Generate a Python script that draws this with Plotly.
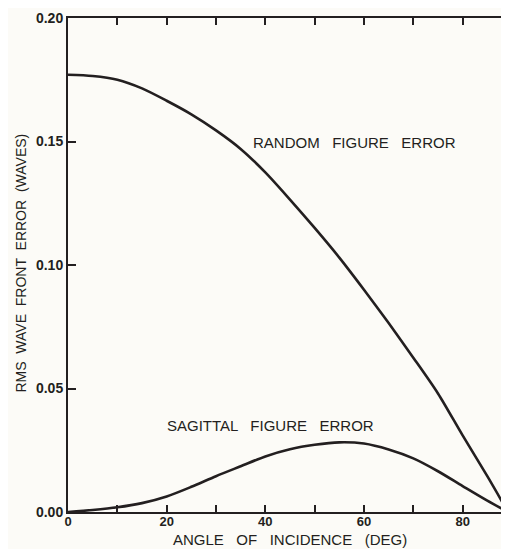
import plotly.graph_objects as go

angle_random = [0, 5, 10, 15, 20, 25, 30, 35, 40, 45, 50, 55, 60, 65, 70, 75, 80, 85, 89.2]
random_err = [0.177, 0.1765, 0.175, 0.1715, 0.1665, 0.1610, 0.1545, 0.1470, 0.1375, 0.1265,
              0.115, 0.103, 0.090, 0.0765, 0.0625, 0.048, 0.031, 0.0145, 0.0]

angle_sag = [0, 5, 10, 15, 20, 25, 30, 35, 40, 45, 50, 55, 60, 65, 70, 75, 80, 85, 89.2]
sag_err = [0.0, 0.0008, 0.0019, 0.0036, 0.0063, 0.0102, 0.0145, 0.0185, 0.0225, 0.0254,
           0.0272, 0.0282, 0.0277, 0.0253, 0.0217, 0.0165, 0.0105, 0.0046, 0.0]

x_ticks = [0, 10, 20, 30, 40, 50, 60, 70, 80]
x_ticktext = ["0", "", "20", "", "40", "", "60", "", "80"]
y_ticks = [0.0, 0.05, 0.10, 0.15, 0.20]
y_ticktext = ["0.00", "0.05", "0.10", "0.15", "0.20"]
y_right_ticks = [0.05, 0.10, 0.15]

ink = "#231f20"
bg = "#fcfbf7"
font_family = "Liberation Sans, Arial, sans-serif"

fig = go.Figure()
fig.add_trace(go.Scatter(x=angle_random, y=random_err, mode="lines",
                         line=dict(color=ink, width=2.6, shape="spline", smoothing=0.8),
                         showlegend=False, hoverinfo="skip"))
fig.add_trace(go.Scatter(x=angle_sag, y=sag_err, mode="lines",
                         line=dict(color=ink, width=2.6, shape="spline", smoothing=0.8),
                         showlegend=False, hoverinfo="skip"))
fig.add_trace(go.Scatter(x=[None], y=[None], yaxis="y2", showlegend=False, hoverinfo="skip"))

# page body has an 8px default margin, so the figure is sized/offset to compensate
fig.update_layout(
    width=501, height=541,
    margin=dict(l=60, r=0, t=10, b=37),
    paper_bgcolor=bg, plot_bgcolor=bg,
    font=dict(family=font_family, color=ink),
    xaxis=dict(range=[0, 89.4], tickvals=x_ticks, ticktext=x_ticktext,
               ticks="inside", ticklen=7, tickwidth=1.5, tickcolor=ink,
               showline=True, linecolor=ink, linewidth=2, mirror="ticks",
               showgrid=False, zeroline=False, automargin=False,
               ticklabelstandoff=-4,
               tickfont=dict(size=13, family=font_family, weight="bold")),
    yaxis=dict(range=[0, 0.20], tickvals=y_ticks, ticktext=y_ticktext,
               ticks="inside", ticklen=8, tickwidth=1.5, tickcolor=ink,
               showline=True, linecolor=ink, linewidth=2,
               showgrid=False, zeroline=False, automargin=False,
               tickfont=dict(size=14, family=font_family, weight="bold")),
    yaxis2=dict(range=[0, 0.20], overlaying="y", side="right", tickvals=y_right_ticks,
                ticks="inside", ticklen=7, tickwidth=1.5, tickcolor=ink,
                showline=False, showticklabels=False, showgrid=False, zeroline=False,
                automargin=False),
    annotations=[
        dict(x=58.1, y=0.1494, xref="x", yref="y", text="RANDOM   FIGURE   ERROR",
             showarrow=False, font=dict(size=15, family=font_family, color=ink)),
        dict(x=41.0, y=0.0352, xref="x", yref="y", text="SAGITTAL   FIGURE   ERROR",
             showarrow=False, font=dict(size=15, family=font_family, color=ink)),
        dict(x=0.503, y=0, xref="paper", yref="paper", yshift=-27, yanchor="middle",
             text="ANGLE   OF   INCIDENCE   (DEG)", showarrow=False,
             font=dict(size=15, family=font_family, color=ink)),
        dict(x=0, y=0.504, xref="paper", yref="paper", xshift=-46.5, xanchor="center",
             yanchor="middle", textangle=-90,
             text="RMS  WAVE  FRONT  ERROR  (WAVES)", showarrow=False,
             font=dict(size=14, family=font_family, color=ink)),
    ],
)

fig.write_html("out.html")
